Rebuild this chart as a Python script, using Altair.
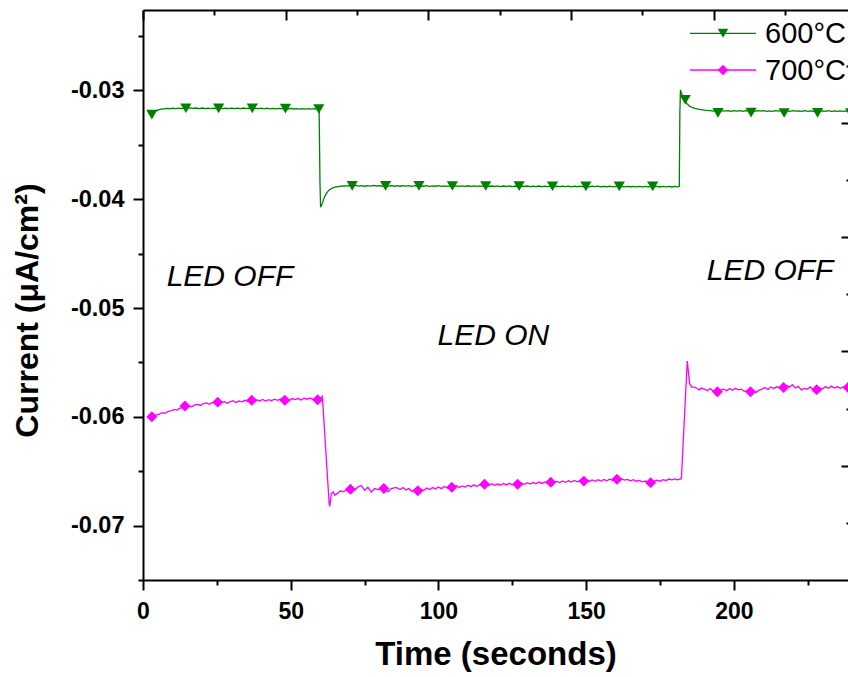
import altair as alt
import pandas as pd

SERIES = ["600°C", "700°C"]
COLORS = ["#008000", "#ff00ff"]
SHAPES = ["triangle-down", "diamond"]

# ---- 600°C trace (time in s, current) ----
T600 = [1.8, 3.0, 4.0, 5.0, 6.0, 7.0, 8.0, 9, 10, 11, 12, 13, 14, 15, 16, 17, 18, 19, 20,
        21, 22, 23, 24, 25, 26, 27, 28, 29, 30, 31, 32, 33, 34, 35, 36, 37, 38, 39, 40,
        41, 42, 43, 44, 45, 46, 47, 48, 49, 50, 51, 52, 53, 54, 55, 56, 57, 58, 59, 59.6,
        59.9, 60.1, 60.5, 61, 61.5, 62, 62.5, 63, 63.5, 64, 65, 66, 67, 68, 69,
        70, 71, 72, 73, 74, 75, 76, 77, 78, 79, 80, 81, 82, 83, 84, 85, 86, 87, 88, 89,
        90, 91, 92, 93, 94, 95, 96, 97, 98, 99, 100, 101, 102, 103, 104, 105, 106, 107, 108, 109,
        110, 111, 112, 113, 114, 115, 116, 117, 118, 119, 120, 121, 122, 123, 124, 125, 126, 127, 128, 129,
        130, 131, 132, 133, 134, 135, 136, 137, 138, 139, 140, 141, 142, 143, 144, 145, 146, 147, 148, 149,
        150, 151, 152, 153, 154, 155, 156, 157, 158, 159, 160, 161, 162, 163, 164, 165, 166, 167, 168, 169,
        170, 171, 172, 173, 174, 175, 176, 177, 178, 179, 180, 181, 181.5,
        181.7, 181.9, 182.3, 182.8, 183.5, 184.2, 185, 186, 187, 188, 189, 190, 191,
        192, 193, 194, 195, 196, 197, 198, 199, 200, 201, 202, 203, 204, 205, 206, 207, 208, 209,
        210, 211, 212, 213, 214, 215, 216, 217, 218, 219, 220, 221, 222, 223, 224, 225, 226, 227,
        228, 229, 230, 231, 232, 233, 234, 235, 236, 237, 238, 239]
V600 = [-0.03212, -0.03205, -0.03192, -0.03180, -0.03172, -0.03168, -0.03165, -0.03168, -0.03163,
        -0.03167, -0.03162, -0.03166, -0.03161, -0.03165, -0.03160, -0.03165, -0.03161, -0.03166,
        -0.03161, -0.03166, -0.03162, -0.03167, -0.03162, -0.03166, -0.03162, -0.03167, -0.03162,
        -0.03166, -0.03163, -0.03167, -0.03162, -0.03166, -0.03161, -0.03166, -0.03161, -0.03165,
        -0.03162, -0.03167, -0.03163, -0.03168, -0.03163, -0.03168, -0.03164, -0.03169, -0.03164,
        -0.03169, -0.03165, -0.03170, -0.03165, -0.03170, -0.03166, -0.03171, -0.03166, -0.03171,
        -0.03167, -0.03172, -0.03167, -0.03171, -0.03168,
        -0.03850, -0.04074, -0.04050, -0.04010, -0.03975, -0.03948, -0.03930, -0.03915, -0.03905,
        -0.03897, -0.03889, -0.03884, -0.03880, -0.03878, -0.03877,
        -0.03874, -0.03879, -0.03873, -0.03879, -0.03874, -0.03880, -0.03874, -0.03879, -0.03873, -0.03878,
        -0.03874, -0.03880, -0.03875, -0.03879, -0.03874, -0.03880, -0.03875, -0.03880, -0.03874, -0.03879,
        -0.03875, -0.03881, -0.03875, -0.03880, -0.03876, -0.03880, -0.03875, -0.03881, -0.03876, -0.03880,
        -0.03875, -0.03881, -0.03876, -0.03881, -0.03876, -0.03880, -0.03876, -0.03882, -0.03877, -0.03881,
        -0.03876, -0.03882, -0.03877, -0.03881, -0.03877, -0.03882, -0.03877, -0.03882, -0.03878, -0.03882,
        -0.03877, -0.03883, -0.03878, -0.03882, -0.03878, -0.03883, -0.03878, -0.03883, -0.03878, -0.03882,
        -0.03878, -0.03884, -0.03879, -0.03883, -0.03878, -0.03884, -0.03879, -0.03883, -0.03879, -0.03884,
        -0.03879, -0.03884, -0.03880, -0.03884, -0.03879, -0.03885, -0.03880, -0.03884, -0.03880, -0.03885,
        -0.03880, -0.03885, -0.03880, -0.03884, -0.03880, -0.03885, -0.03881, -0.03885, -0.03880, -0.03886,
        -0.03881, -0.03885, -0.03881, -0.03886, -0.03881, -0.03885, -0.03881, -0.03886, -0.03882, -0.03886,
        -0.03881, -0.03886, -0.03882, -0.03886, -0.03882, -0.03887, -0.03882, -0.03886, -0.03882, -0.03887,
        -0.03882, -0.03886, -0.03883,
        -0.03200, -0.02994, -0.03030, -0.03071, -0.03100, -0.03125, -0.03145, -0.03158, -0.03166,
        -0.03172, -0.03176, -0.03180, -0.03183,
        -0.03185, -0.03190, -0.03186, -0.03191, -0.03186, -0.03190, -0.03185, -0.03191, -0.03186, -0.03190,
        -0.03186, -0.03191, -0.03185, -0.03190, -0.03186, -0.03191, -0.03186, -0.03190,
        -0.03186, -0.03191, -0.03187, -0.03191, -0.03186, -0.03190, -0.03186, -0.03191, -0.03187, -0.03191,
        -0.03186, -0.03190, -0.03187, -0.03192, -0.03186, -0.03191, -0.03187, -0.03191,
        -0.03187, -0.03192, -0.03187, -0.03191, -0.03186, -0.03192, -0.03187, -0.03191, -0.03187, -0.03192,
        -0.03187, -0.03191]
MT600 = [3.0, 14.5, 25.6, 37.0, 48.2, 59.5, 70.8, 82.1, 93.4, 104.7, 116.0, 127.3, 138.6,
         149.9, 161.2, 172.5, 183.5, 194.6, 205.8, 217.0, 228.3, 239.5]
MV600 = [-0.03222, -0.03163, -0.03165, -0.03164, -0.03166, -0.03170, -0.03876, -0.03876,
         -0.03877, -0.03878, -0.03878, -0.03879, -0.03880, -0.03881, -0.03882, -0.03882,
         -0.03085, -0.03206, -0.03204, -0.03207, -0.03205, -0.03207]

# ---- 700°C trace ----
T700 = [1.5, 2.5, 3.5, 4.5, 5.5, 6.5, 7.5, 8.5, 9.5, 10.5, 11.5, 12.5, 13.5, 14.5, 15.5, 16.5,
        17.5, 18.5, 19.5, 20.5, 21.5, 22.5, 23.5, 24.5, 25.5, 26.5, 27.5, 28.5, 29.5, 30.5,
        31.5, 32.5, 33.5, 34.5, 35.5, 36.5, 37.5, 38.5, 39.5, 40.5, 41.5, 42.5, 43.5, 44.5,
        45.5, 46.5, 47.5, 48.5, 49.5, 50.5, 51.5, 52.5, 53.5, 54.5, 55.5, 56.5, 57.5, 58.5,
        59.5, 60.3, 60.7,
        63.0, 63.2, 63.75, 64.4, 64.9, 66.0, 66.8, 67.7, 68.8, 70.2, 71.7, 72.8, 73.9, 75.0,
        76.1, 77.3, 78.4, 79.5, 81.5, 82.9, 84.0, 85.7,
        87, 88, 89, 90, 91, 92, 93, 94, 95, 96, 97, 98, 99, 100, 101, 102, 103, 104, 105, 106,
        107, 108, 109, 110, 111, 112, 113, 114, 115, 116, 117, 118, 119, 120, 121, 122, 123, 124,
        125, 126, 127, 128, 129, 130, 131, 132, 133, 134, 135, 136, 137, 138, 139, 140, 141, 142,
        143, 144, 145, 146, 147, 148, 149, 150, 151, 152, 153, 154, 155, 156, 157, 158, 159, 160,
        161, 162, 163, 164, 165, 166, 167, 168, 169, 170, 171, 172, 173, 174, 175, 176, 177, 178,
        179, 180, 181, 182.2,
        184.2, 185.0, 185.7, 186.7, 187.5, 188.3, 189.0, 190.0, 191.0, 192.0, 193.0, 194.4, 195.5,
        196.5, 197.5, 198.5, 199.5, 200.5, 201.5, 202.5, 203.5, 204.5, 205.6, 206.5, 207.5, 208.5,
        209.5, 210.5, 211.5, 212.5, 213.5, 214.5, 215.5, 216.8, 217.8, 218.8, 219.8, 220.8, 221.8,
        222.8, 223.8, 224.8, 225.8, 226.8, 228.0, 229.0, 230.0, 231.0, 232.0, 233.0, 234.0, 235.0,
        236.0, 237.0, 238.0, 239.0]
V700 = [-0.06008, -0.06002, -0.05995, -0.05982, -0.05975, -0.05962, -0.05968, -0.05950, -0.05945,
        -0.05932, -0.05938, -0.05920, -0.05912, -0.05905, -0.05898, -0.05908, -0.05890, -0.05885,
        -0.05895, -0.05878, -0.05872, -0.05885, -0.05868, -0.05875, -0.05862, -0.05870, -0.05858,
        -0.05875, -0.05860, -0.05852, -0.05868, -0.05855, -0.05862, -0.05848, -0.05858, -0.05850,
        -0.05862, -0.05845, -0.05852, -0.05840, -0.05855, -0.05842, -0.05850, -0.05838, -0.05848,
        -0.05835, -0.05845, -0.05838, -0.05850, -0.05832, -0.05842, -0.05830, -0.05845, -0.05828,
        -0.05838, -0.05826, -0.05840, -0.05830, -0.05842, -0.05825, -0.05812,
        -0.06797, -0.06822, -0.06705, -0.06690, -0.06720, -0.06699, -0.06680, -0.06690, -0.06675,
        -0.06665, -0.06670, -0.06644, -0.06631, -0.06675, -0.06648, -0.06690, -0.06659, -0.06669,
        -0.06659, -0.06690, -0.06659, -0.06648,
        -0.06668, -0.06650, -0.06672, -0.06660, -0.06685, -0.06670, -0.06682, -0.06665, -0.06678,
        -0.06655, -0.06668, -0.06650, -0.06662, -0.06645, -0.06660, -0.06640, -0.06655, -0.06638,
        -0.06648, -0.06632, -0.06650, -0.06635, -0.06645, -0.06628, -0.06642, -0.06625, -0.06640,
        -0.06622, -0.06635, -0.06620, -0.06632, -0.06615, -0.06630, -0.06618, -0.06628, -0.06612,
        -0.06626, -0.06610, -0.06625, -0.06615, -0.06622, -0.06608, -0.06620, -0.06605, -0.06618,
        -0.06602, -0.06615, -0.06600, -0.06612, -0.06598, -0.06610, -0.06595, -0.06608, -0.06592,
        -0.06605, -0.06590, -0.06602, -0.06588, -0.06600, -0.06585, -0.06598, -0.06585, -0.06595,
        -0.06582, -0.06594, -0.06580, -0.06592, -0.06578, -0.06590, -0.06575, -0.06588, -0.06572,
        -0.06585, -0.06568, -0.06580, -0.06570, -0.06582, -0.06575, -0.06588, -0.06578, -0.06592,
        -0.06585, -0.06598, -0.06590, -0.06600, -0.06595, -0.06590, -0.06582, -0.06592, -0.06578,
        -0.06585, -0.06572, -0.06580, -0.06570, -0.06578, -0.06570,
        -0.05488, -0.05693, -0.05727, -0.05727, -0.05740, -0.05752, -0.05735, -0.05745, -0.05758,
        -0.05740, -0.05765, -0.05770, -0.05755, -0.05745, -0.05760, -0.05740, -0.05755, -0.05738,
        -0.05752, -0.05745, -0.05765, -0.05760, -0.05770, -0.05760, -0.05775, -0.05755, -0.05745,
        -0.05730, -0.05748, -0.05725, -0.05740, -0.05722, -0.05738, -0.05730, -0.05712, -0.05725,
        -0.05705, -0.05735, -0.05720, -0.05752, -0.05738, -0.05745, -0.05725, -0.05748, -0.05750,
        -0.05735, -0.05742, -0.05722, -0.05738, -0.05718, -0.05735, -0.05722, -0.05738, -0.05725,
        -0.05730, -0.05720]
MT700 = [3.0, 14.2, 25.3, 36.8, 48.0, 59.1, 70.2, 81.5, 93.0, 104.5, 115.6, 126.8, 138.0,
         149.2, 160.4, 171.8, 194.4, 205.6, 216.8, 228.0, 238.6]
MV700 = [-0.06000, -0.05900, -0.05865, -0.05847, -0.05847, -0.05843, -0.06665, -0.06659,
         -0.06680, -0.06647, -0.06620, -0.06620, -0.06601, -0.06591, -0.06573, -0.06605,
         -0.05770, -0.05770, -0.05730, -0.05750, -0.05730]

# ---- annotations ----
NOTE_TEXT = ["LED OFF", "LED ON", "LED OFF"]
NOTE_T = [8.0, 99.7, 190.8]
NOTE_V = [-0.04715, -0.05253, -0.04655]

# ---- ticks ----
X_TICKS = [0, 25, 50, 75, 100, 125, 150, 175, 200, 225]
Y_TICKS = [-0.075, -0.07, -0.065, -0.06, -0.055, -0.05, -0.045, -0.04, -0.035, -0.03, -0.025]
TOP_TICKS = [0, 25, 50, 75, 100, 125, 150, 175, 200, 225]
RIGHT_TICKS = [0.5, 1, 1.5, 2, 2.5, 3, 3.5, 4, 4.5]

X_DOMAIN = [0, 238.6]
Y_DOMAIN = [-0.0750, -0.0226]

FONT = "Liberation Sans"

lines = pd.DataFrame({
    "series": [SERIES[0]] * len(T600) + [SERIES[1]] * len(T700),
    "t": T600 + T700,
    "v": V600 + V700,
})
m600 = pd.DataFrame({"series": SERIES[0], "t": MT600, "v": MV600})
m700 = pd.DataFrame({"series": SERIES[1], "t": MT700, "v": MV700})
notes = pd.DataFrame({"text": NOTE_TEXT, "t": NOTE_T, "v": NOTE_V})
leg = pd.DataFrame({"series": SERIES})


def cond(test, big, small):
    return {"condition": {"test": test, "value": big}, "value": small}


x_axis = alt.Axis(
    values=X_TICKS, labelExpr="datum.value % 50 === 0 ? datum.label : ''",
    tickSize=cond("datum.value % 50 === 0", 10, 5), tickWidth=2, tickColor="black",
    domainWidth=2, domainColor="black", grid=False, labelFlush=False, labelOverlap=False,
    labelFont=FONT, labelFontSize=23, labelFontWeight="bold", labelColor="black",
    labelPadding=10, title="Time (seconds)", titleFont=FONT, titleFontSize=33,
    titleFontWeight="bold", titleColor="black", titlePadding=15,
)
y_axis = alt.Axis(
    values=Y_TICKS,
    labelExpr="abs(datum.value*100 - round(datum.value*100)) < 0.001 ? '-' + format(abs(datum.value), '.2f') : ''",
    tickSize=cond("abs(datum.value*100 - round(datum.value*100)) < 0.001", 10, 5),
    tickWidth=2, tickColor="black", domainWidth=2, domainColor="black", grid=False,
    labelOverlap=False, labelFlush=False,
    labelFont=FONT, labelFontSize=23.5, labelFontWeight="bold", labelColor="black",
    labelPadding=9, title="Current (μA/cm²)", titleFont=FONT, titleFontSize=32,
    titleFontWeight="bold", titleColor="black", titlePadding=26, titleY=300,
)

xs = alt.Scale(domain=X_DOMAIN, nice=False, zero=False)
ys = alt.Scale(domain=Y_DOMAIN, nice=False, zero=False)
cs = alt.Scale(domain=SERIES, range=COLORS)

line_layer = alt.Chart(lines).mark_line(strokeWidth=1.3, clip=True).encode(
    x=alt.X("t:Q", scale=xs, axis=x_axis),
    y=alt.Y("v:Q", scale=ys, axis=y_axis),
    color=alt.Color("series:N", scale=cs, legend=None),
    order="t:Q",
)
mk600 = alt.Chart(m600).mark_point(shape=SHAPES[0], filled=True, size=125,
                                   opacity=1, clip=True).encode(
    x="t:Q", y="v:Q", color=alt.Color("series:N", scale=cs, legend=None))
mk700 = alt.Chart(m700).mark_point(shape=SHAPES[1], filled=True, size=120,
                                   opacity=1, clip=True).encode(
    x="t:Q", y="v:Q", color=alt.Color("series:N", scale=cs, legend=None))

text_layer = alt.Chart(notes).mark_text(
    font=FONT, fontStyle="italic",
    fontSize=30, align="left", baseline="middle", color="black").encode(
    x="t:Q", y="v:Q", text="text:N")

main = alt.layer(line_layer, mk700, mk600, text_layer)

# ---- legend (line sample + marker + label), rows placed by a point scale ----
# point scale keeps its default half-step padding: rows land at 23.3 and 60.0
ly = alt.Y("series:N", scale=alt.Scale(domain=SERIES, range=[4.95, 78.35]), axis=None)
leg_line = alt.Chart(leg).mark_rule(strokeWidth=1.3).encode(
    x=alt.value(547), x2=alt.value(613), y=ly,
    color=alt.Color("series:N", scale=cs, legend=None))
leg_mark = alt.Chart(leg).mark_point(filled=True, size=110, opacity=1).encode(
    x=alt.value(580), y=ly,
    shape=alt.Shape("series:N", scale=alt.Scale(domain=SERIES, range=SHAPES), legend=None),
    color=alt.Color("series:N", scale=cs, legend=None))
leg_text = alt.Chart(leg).mark_text(font=FONT, fontSize=29, align="left", baseline="middle",
                                    color="black", dy=1).encode(
    x=alt.value(622), y=ly, text="series:N")
legend_group = alt.layer(leg_line, leg_mark, leg_text)

# top frame with inward ticks
top_layer = alt.Chart(pd.DataFrame({"k": TOP_TICKS})).mark_point(opacity=0).encode(
    x=alt.X("k:Q", scale=alt.Scale(domain=[0, 247.0], nice=False, zero=False),
            axis=alt.Axis(orient="bottom", offset=-570, values=TOP_TICKS, labels=False,
                          title=None, grid=False, tickSize=cond("datum.value % 50 === 0", 10, 5),
                          tickWidth=2, tickColor="black", domainWidth=2, domainColor="black")))
# right-hand inward ticks (axis line beyond the picture edge)
right_layer = alt.Chart(pd.DataFrame({"r": RIGHT_TICKS})).mark_point(opacity=0).encode(
    y=alt.Y("r:Q", scale=alt.Scale(domain=[0, 4.987], nice=False, zero=False),
            axis=alt.Axis(orient="left", offset=-708, values=RIGHT_TICKS, labels=False,
                          title=None, grid=False, domain=False,
                          tickSize=cond("datum.value % 1 === 0", 10, 5),
                          tickWidth=2, tickColor="black")))

chart = alt.layer(main, legend_group, top_layer, right_layer).resolve_scale(
    x="independent", y="independent"
).properties(
    width=705, height=570,
    padding={"left": 143, "top": 10, "right": 0, "bottom": 97},
    autosize=alt.AutoSizeParams(type="none"),
    background="white",
).configure_view(stroke=None)

chart.save("out.html", embed_options={"renderer": "svg", "actions": False})
